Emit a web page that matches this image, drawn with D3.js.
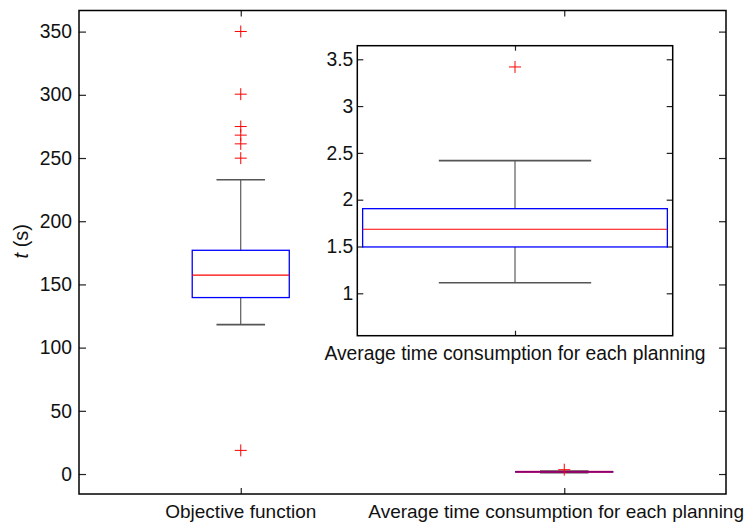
<!DOCTYPE html>
<html>
<head>
<meta charset="utf-8">
<script src="https://cdn.jsdelivr.net/npm/d3@7"></script>
<style>
  html, body { margin: 0; padding: 0; background: #fff; }
  svg text { font-family: "Liberation Sans", Arial, sans-serif; fill: #111; }
</style>
</head>
<body>
<svg id="chart" width="754" height="526"></svg>
<script>
// Box-plot groups
const categories = ["Objective function", "Average time consumption for each planning"];

// Five-number summaries: [lower whisker, Q1, median, Q3, upper whisker]
const objectiveSummary = [118.2, 139.6, 157.3, 177.0, 232.8];
const timeSummary = [1.113, 1.495, 1.684, 1.904, 2.417];

// Points beyond the whiskers
const objectiveOutliers = [18.7, 249.9, 261.2, 268.1, 274.9, 300.5, 350.1];
const timeOutliers = [3.418];

// Axis ticks
const mainTicks = [0, 50, 100, 150, 200, 250, 300, 350];
const insetTicks = [1, 1.5, 2, 2.5, 3, 3.5];
const insetLabel = "Average time consumption for each planning";

const FS = 19.3;   // label font size
const svg = d3.select("#chart");

// ---- main axes ----
const M = { left: 79, right: 726, top: 10.5, bottom: 494 };
const x = d3.scaleLinear().domain([0.5, 2.5]).range([M.left, M.right]);
const y = d3.scaleLinear().domain([-15.8, 366.7]).range([M.bottom, M.top]);
const boxWidth = 0.3;   // in category units

function styleAxis(g) {
  g.selectAll(".domain").remove();
  g.selectAll(".tick line").attr("stroke", "#222").attr("stroke-width", 1.2);
  g.selectAll(".tick text").attr("font-size", FS).attr("fill", "#111")
    .attr("font-family", "Liberation Sans, Arial, sans-serif");
}

function drawBox(g, xs, ys, pos, s, outliers, w) {
  const [lo, q1, med, q3, hi] = s;
  const x0 = xs(pos - w / 2), x1 = xs(pos + w / 2), xc = xs(pos);
  const c0 = xs(pos - w / 4), c1 = xs(pos + w / 4);
  // whisker stems
  [[q3, hi], [q1, lo]].forEach(([a, b]) => {
    g.append("line").attr("x1", xc).attr("x2", xc).attr("y1", ys(a)).attr("y2", ys(b))
      .attr("stroke", "#3a3a3a").attr("stroke-width", 1);
  });
  // whisker caps
  [hi, lo].forEach(v => {
    g.append("line").attr("x1", c0).attr("x2", c1).attr("y1", ys(v)).attr("y2", ys(v))
      .attr("stroke", "#555").attr("stroke-width", 1.6);
  });
  const thin = (ys(q1) - ys(q3)) < 3;
  // box
  g.append("rect").attr("x", x0).attr("y", ys(q3)).attr("width", x1 - x0)
    .attr("height", Math.max(ys(q1) - ys(q3), 0.01))
    .attr("fill", "none").attr("stroke", "#0000ff").attr("stroke-width", 1.3);
  // median
  g.append("line").attr("x1", x0).attr("x2", x1).attr("y1", ys(med)).attr("y2", ys(med))
    .attr("stroke", "#ff0000").attr("stroke-width", thin ? 2.2 : 1.2)
    .attr("stroke-opacity", thin ? 0.55 : 1);
  // outliers
  const r = 6;
  outliers.forEach(v => {
    const py = ys(v);
    g.append("path").attr("d", `M${xc - r},${py}H${xc + r}M${xc},${py - r}V${py + r}`)
      .attr("stroke", "#ff0000").attr("stroke-width", 1).attr("fill", "none");
  });
}

// left axis with inward ticks and labels
const gl = svg.append("g").attr("transform", `translate(${M.left},0)`)
  .call(d3.axisLeft(y).tickValues(mainTicks).tickSize(-7).tickPadding(7).tickSizeOuter(0));
styleAxis(gl);
// right axis, ticks only
const gr = svg.append("g").attr("transform", `translate(${M.right},0)`)
  .call(d3.axisRight(y).tickValues(mainTicks).tickSize(-7).tickFormat("").tickSizeOuter(0));
styleAxis(gr);
// top and bottom category ticks
const gt = svg.append("g").attr("transform", `translate(0,${M.top})`)
  .call(d3.axisTop(x).tickValues([1, 2]).tickSize(-6).tickFormat("").tickSizeOuter(0));
styleAxis(gt);
const gb = svg.append("g").attr("transform", `translate(0,${M.bottom})`)
  .call(d3.axisBottom(x).tickValues([1, 2]).tickSize(-6).tickFormat("").tickSizeOuter(0));
styleAxis(gb);

// category labels
categories.forEach((c, i) => {
  const t = svg.append("text").attr("x", x(i + 1)).attr("y", 518)
    .attr("text-anchor", "middle").attr("font-size", 19).text(c);
  const bb = t.node().getBBox();
  if (bb.x + bb.width > 744) t.attr("x", x(i + 1) - (bb.x + bb.width - 744));
});

// y-axis title
svg.append("text")
  .attr("transform", `translate(28,${(M.top + M.bottom) / 2 - 11}) rotate(-90)`)
  .attr("text-anchor", "middle").attr("font-size", 20)
  .call(t => {
    t.append("tspan").attr("font-style", "italic").text("t");
    t.append("tspan").text(" (s)");
  });

const plot = svg.append("g");
drawBox(plot, x, y, 1, objectiveSummary, objectiveOutliers, boxWidth);
drawBox(plot, x, y, 2, timeSummary, timeOutliers, boxWidth);

// frame
svg.append("rect").attr("x", M.left).attr("y", M.top)
  .attr("width", M.right - M.left).attr("height", M.bottom - M.top)
  .attr("fill", "none").attr("stroke", "#000").attr("stroke-width", 1.5);

// ---- inset: zoom on the time-consumption box ----
const I = { left: 357.3, right: 672.7, top: 45.7, bottom: 335.7 };
const half = boxWidth / 2 * 1.035;
const xi = d3.scaleLinear().domain([1 - half, 1 + half]).range([I.left, I.right]);
const yi = d3.scaleLinear().domain([0.547, 3.645]).range([I.bottom, I.top]);

const inset = svg.append("g");
inset.append("rect").attr("x", I.left).attr("y", I.top)
  .attr("width", I.right - I.left).attr("height", I.bottom - I.top).attr("fill", "#fff");

const il = inset.append("g").attr("transform", `translate(${I.left},0)`)
  .call(d3.axisLeft(yi).tickValues(insetTicks).tickSize(-6).tickPadding(4)
    .tickFormat(d => String(d)).tickSizeOuter(0));
styleAxis(il);
const ir = inset.append("g").attr("transform", `translate(${I.right},0)`)
  .call(d3.axisRight(yi).tickValues(insetTicks).tickSize(-6).tickFormat("").tickSizeOuter(0));
styleAxis(ir);
const it = inset.append("g").attr("transform", `translate(0,${I.top})`)
  .call(d3.axisTop(xi).tickValues([1]).tickSize(-5).tickFormat("").tickSizeOuter(0));
styleAxis(it);
const ib = inset.append("g").attr("transform", `translate(0,${I.bottom})`)
  .call(d3.axisBottom(xi).tickValues([1]).tickSize(-5).tickFormat("").tickSizeOuter(0));
styleAxis(ib);

drawBox(inset, xi, yi, 1, timeSummary, timeOutliers, boxWidth);

inset.append("rect").attr("x", I.left).attr("y", I.top)
  .attr("width", I.right - I.left).attr("height", I.bottom - I.top)
  .attr("fill", "none").attr("stroke", "#000").attr("stroke-width", 1.5);

inset.append("text").attr("x", xi(1)).attr("y", 360)
  .attr("text-anchor", "middle").attr("font-size", FS).text(insetLabel);
</script>
</body>
</html>
